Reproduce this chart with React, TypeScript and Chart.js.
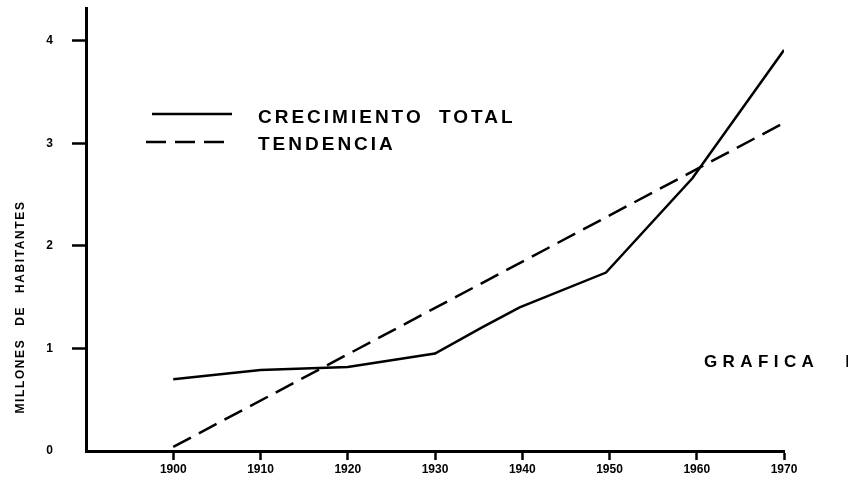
import React, { useEffect, useRef } from 'react';
import { Chart, registerables } from 'chart.js';

Chart.register(...registerables);

const xTickYears = [1900, 1910, 1920, 1930, 1940, 1950, 1960, 1970];
const yTickValues = [0, 1, 2, 3, 4];
const totalYears = [1900, 1910, 1920, 1930, 1935.5, 1939.7, 1949.6, 1959.5, 1970];
const totalValues = [0.7, 0.79, 0.82, 0.95, 1.21, 1.4, 1.74, 2.66, 3.91];
const trendYears = [1900, 1970];
const trendValues = [0.04, 3.2];
const legendLabels = ['CRECIMIENTO TOTAL', 'TENDENCIA'];
const yTitle = 'MILLONES DE HABITANTES';
const chartLabel = 'GRAFICA I';

const FONT = '"Liberation Sans", Arial, sans-serif';

const overlayPlugin = {
  id: 'overlay',
  afterDraw(chart: any) {
    const ctx = chart.ctx as CanvasRenderingContext2D;
    const a = chart.chartArea;
    ctx.save();
    ctx.fillStyle = '#000';
    ctx.strokeStyle = '#000';
    ctx.lineWidth = 2.5;
    // legend
    const lx = a.left;
    ctx.beginPath();
    ctx.setLineDash([]);
    ctx.moveTo(lx + 66, 114);
    ctx.lineTo(lx + 146, 114);
    ctx.stroke();
    ctx.beginPath();
    ctx.setLineDash([20, 9]);
    ctx.moveTo(lx + 60, 142);
    ctx.lineTo(lx + 146, 142);
    ctx.stroke();
    ctx.setLineDash([]);
    ctx.font = `bold 19px ${FONT}`;
    ctx.textBaseline = 'middle';
    ctx.textAlign = 'left';
    (ctx as any).letterSpacing = '3px';
    (ctx as any).wordSpacing = '7px';
    ctx.fillText(legendLabels[0], lx + 172, 118);
    ctx.fillText(legendLabels[1], lx + 172, 145);
    // chart label
    ctx.font = `bold 17px ${FONT}`;
    (ctx as any).letterSpacing = '5.4px';
    (ctx as any).wordSpacing = '16px';
    ctx.fillText(chartLabel, 704, 362);
    // y title
    ctx.save();
    ctx.translate(21, 307);
    ctx.rotate(-Math.PI / 2);
    ctx.textAlign = 'center';
    ctx.font = `bold 12px ${FONT}`;
    (ctx as any).letterSpacing = '1.6px';
    (ctx as any).wordSpacing = '8px';
    ctx.fillText(yTitle, 0, 0);
    ctx.restore();
    (ctx as any).letterSpacing = '0px';
    (ctx as any).wordSpacing = '0px';
    ctx.restore();
  },
};

export default function App() {
  const ref = useRef<HTMLCanvasElement | null>(null);
  useEffect(() => {
    if (!ref.current) return;
    const chart = new Chart(ref.current, {
      type: 'line',
      data: {
        datasets: [
          {
            label: legendLabels[0],
            data: totalYears.map((x, i) => ({ x, y: totalValues[i] })),
            borderColor: '#000',
            borderWidth: 2.5,
            pointRadius: 0,
            tension: 0,
            fill: false,
          },
          {
            label: legendLabels[1],
            data: trendYears.map((x, i) => ({ x, y: trendValues[i] })),
            borderColor: '#000',
            borderWidth: 2.5,
            borderDash: [20, 9],
            pointRadius: 0,
            tension: 0,
            fill: false,
          },
        ],
      },
      options: {
        responsive: false,
        animation: false,
        layout: { padding: { left: 0, right: 64, top: 8, bottom: 0 } },
        plugins: {
          legend: { display: false },
          tooltip: { enabled: false },
          title: { display: false },
        },
        scales: {
          x: {
            type: 'linear',
            min: 1890,
            max: 1970,
            afterBuildTicks: (s: any) => {
              s.ticks = xTickYears.map((v) => ({ value: v }));
            },
            afterFit: (s: any) => {
              s.height = 30;
              s.paddingLeft = 0;
              s.paddingRight = 0;
            },
            border: { display: true, color: '#000', width: 3 },
            grid: {
              display: true,
              drawOnChartArea: false,
              drawTicks: true,
              tickLength: 9,
              tickWidth: 2.5,
              tickColor: '#000',
              color: '#000',
            },
            ticks: {
              color: '#000',
              padding: 2,
              maxRotation: 0,
              autoSkip: false,
              font: { family: FONT, size: 12, weight: 'bold' },
              callback: (v: any) => String(v),
            },
          },
          y: {
            type: 'linear',
            min: 0,
            max: 4.32,
            afterBuildTicks: (s: any) => {
              s.ticks = yTickValues.map((v) => ({ value: v }));
            },
            afterFit: (s: any) => {
              s.width = 86;
              s.paddingTop = 0;
              s.paddingBottom = 0;
            },
            border: { display: true, color: '#000', width: 3 },
            grid: {
              display: true,
              drawOnChartArea: false,
              drawTicks: true,
              tickLength: 14,
              tickWidth: 2.5,
              tickColor: (c: any) => (c.tick && c.tick.value === 0 ? 'rgba(0,0,0,0)' : '#000'),
              color: '#000',
            },
            ticks: {
              color: '#000',
              padding: 19,
              autoSkip: false,
              font: { family: FONT, size: 12, weight: 'bold' },
              callback: (v: any) => String(v),
            },
          },
        },
      },
      plugins: [overlayPlugin],
    } as any);
    return () => chart.destroy();
  }, []);
  return (
    <div style={{ position: 'fixed', left: 0, top: 0, width: 848, height: 481, background: '#fff' }}>
      <canvas ref={ref} width={848} height={481} style={{ width: 848, height: 481, display: 'block' }} />
    </div>
  );
}
